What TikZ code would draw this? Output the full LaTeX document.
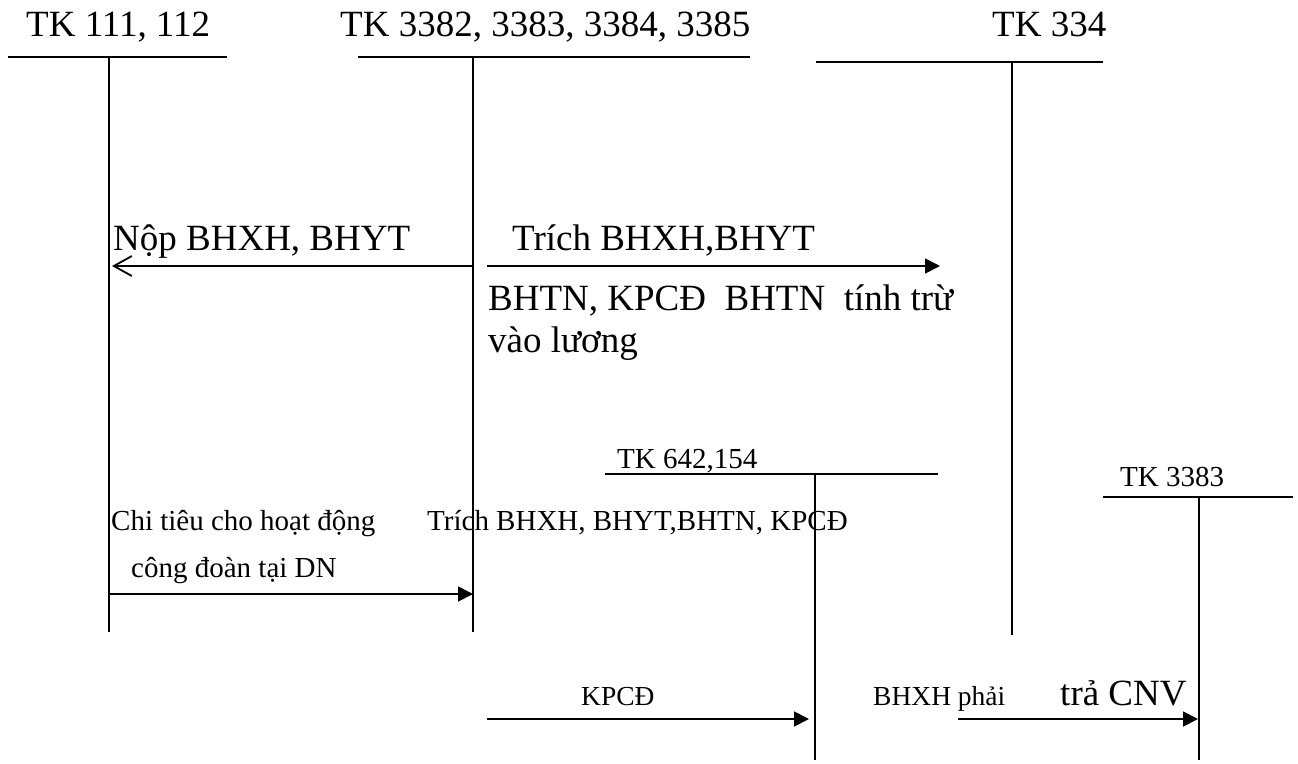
\documentclass[tikz,border=0pt]{standalone}
\usepackage{fontspec}
\setmainfont{Liberation Serif}
\usetikzlibrary{arrows.meta}
\tikzset{
  big/.style={font=\fontsize{37pt}{42pt}\selectfont, inner sep=0pt, anchor=base west},
  med/.style={font=\fontsize{29pt}{34pt}\selectfont, inner sep=0pt, anchor=base west},
  sml/.style={font=\fontsize{27.5pt}{32pt}\selectfont, inner sep=0pt, anchor=base west},
  tline/.style={line width=1.8pt},
  farrow/.style={line width=1.8pt, -{Triangle[length=15pt,width=15pt]}},
  oarrow/.style={line width=1.8pt, -{Straight Barb[length=18pt,width=20pt,line width=1.8pt]}}
}
\begin{document}
\begin{tikzpicture}[x=1pt,y=-1pt]
\useasboundingbox (0,0) rectangle (1298,763);
% T-account headers
\node[big] (h1) at (26,36) {TK 111, 112};
\node[big] (h2) at (340,36) {TK 3382, 3383, 3384, 3385};
\node[big] (h3) at (992,36) {TK 334};
\node[med] (h4) at (617,468) {TK 642,154};
\node[med] (h5) at (1120,486) {TK 3383};
% T-account lines
\coordinate (t1l) at (8,57);   \coordinate (t1r) at (227,57);
\coordinate (t1t) at (109,57); \coordinate (t1b) at (109,632);
\coordinate (t2l) at (358,57); \coordinate (t2r) at (750,57);
\coordinate (t2t) at (473,57); \coordinate (t2b) at (473,632);
\coordinate (t3l) at (816,62); \coordinate (t3r) at (1103,62);
\coordinate (t3t) at (1012,62); \coordinate (t3b) at (1012,635);
\coordinate (t4l) at (605,474); \coordinate (t4r) at (938,474);
\coordinate (t4t) at (815,474); \coordinate (t4b) at (815,760);
\coordinate (t5l) at (1103,497); \coordinate (t5r) at (1293,497);
\coordinate (t5t) at (1199,497); \coordinate (t5b) at (1199,760);
\draw[tline] (t1l) -- (t1r); \draw[tline] (t1t) -- (t1b);
\draw[tline] (t2l) -- (t2r); \draw[tline] (t2t) -- (t2b);
\draw[tline] (t3l) -- (t3r); \draw[tline] (t3t) -- (t3b);
\draw[tline] (t4l) -- (t4r); \draw[tline] (t4t) -- (t4b);
\draw[tline] (t5l) -- (t5r); \draw[tline] (t5t) -- (t5b);
% arrow endpoints
\coordinate (a1s) at (473,266); \coordinate (a1e) at (112,266);
\coordinate (a2s) at (487,266); \coordinate (a2e) at (940,266);
\coordinate (a3s) at (109,594); \coordinate (a3e) at (473,594);
\coordinate (a4s) at (487,719); \coordinate (a4e) at (809,719);
\coordinate (a5s) at (958,719); \coordinate (a5e) at (1198,719);
\draw[oarrow] (a1s) -- (a1e);
\draw[farrow] (a2s) -- (a2e);
\draw[farrow] (a3s) -- (a3e);
\draw[farrow] (a4s) -- (a4e);
\draw[farrow] (a5s) -- (a5e);
% labels
\node[big] (l1) at (113,250) {Nộp BHXH, BHYT};
\node[big] (l2) at (512,250) {Trích BHXH,BHYT};
\node[big] (l3) at (488,310) {BHTN, KPCĐ\enspace BHTN\enspace tính trừ};
\node[big] (l4) at (488,352) {vào lương};
\node[med] (l5) at (111,530) {Chi tiêu cho hoạt động};
\node[med] (l6) at (131,577) {công đoàn tại DN};
\node[med] (l7) at (427,530) {Trích BHXH, BHYT,BHTN, KPCĐ};
\node[sml] (l8) at (581,705) {KPCĐ};
\node[sml] (l9) at (873,705) {BHXH phải};
\node[big] (l10) at (1060,705) {trả CNV};
\end{tikzpicture}
\end{document}
